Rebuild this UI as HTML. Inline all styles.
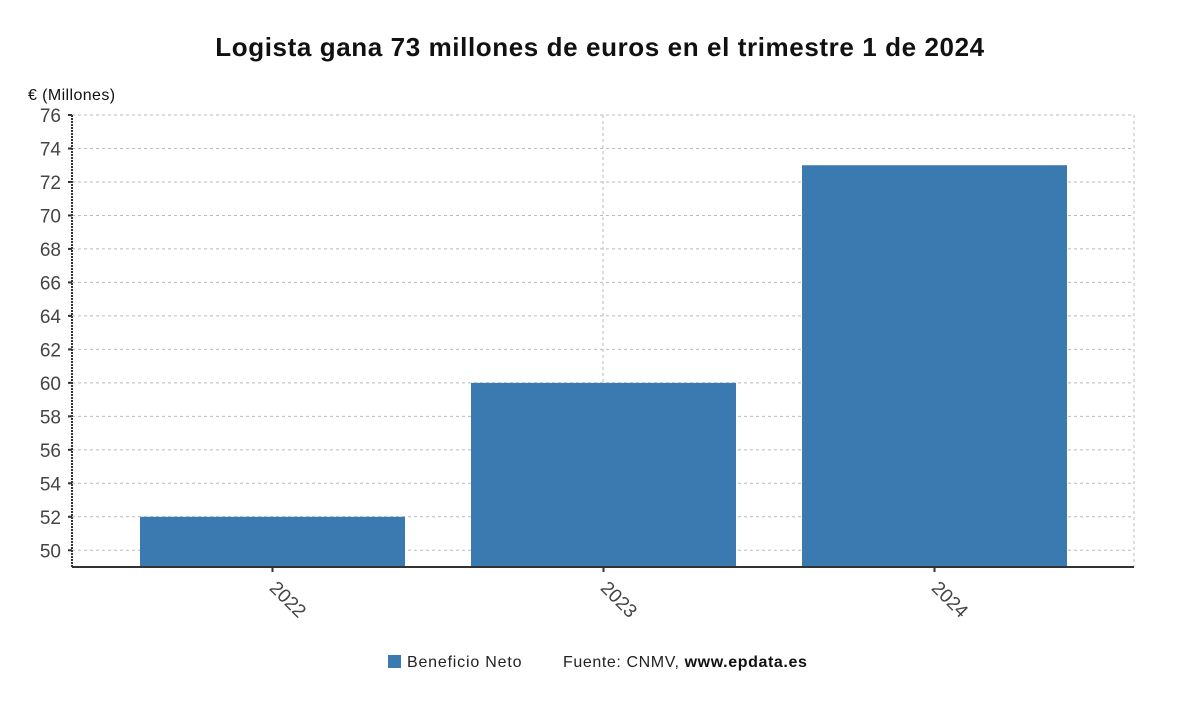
<!DOCTYPE html>
<html><head><meta charset="utf-8"><style>
body{margin:0;background:#fff;}
svg{display:block;font-family:"Liberation Sans",sans-serif;}
</style></head><body>
<svg id="c" width="1200" height="705">
<text x="600" y="56" text-anchor="middle" font-size="26" font-weight="bold" fill="#111" letter-spacing="0.6">Logista gana 73 millones de euros en el trimestre 1 de 2024</text>
<text x="28" y="100" font-size="16" fill="#111" letter-spacing="0.4">€ (Millones)</text>
<g id="grid"></g><g id="bars"></g><g id="axes"></g>
<g>
<rect x="388" y="655" width="13" height="13" fill="#3a7ab0"></rect>
<text x="407" y="667" font-size="16" fill="#222" letter-spacing="0.8">Beneficio Neto</text>
<text x="563" y="667" font-size="16" fill="#222" letter-spacing="0.6">Fuente: CNMV, <tspan font-weight="bold" fill="#111">www.epdata.es</tspan></text>
</g>
</svg>
<script>
const categories=["2022","2023","2024"];
const values=[52,60,73];
const yTicks=[50,52,54,56,58,60,62,64,66,68,70,72,74,76];
const NS="http://www.w3.org/2000/svg";
const L=72,R=1134,T=115,B=567,yMin=49,yMax=76;
function y(v){return B-(v-yMin)/(yMax-yMin)*(B-T);}
function x(i){return 272.5+331*i;}
function mk(tag,attrs,parent){const e=document.createElementNS(NS,tag);for(const k in attrs)e.setAttribute(k,attrs[k]);document.getElementById(parent).appendChild(e);return e;}
yTicks.forEach(v=>{
 const g=mk('line',{x1:L,x2:R,y1:y(v),y2:y(v),stroke:'#bbb','stroke-dasharray':'3,3'},'grid');
 
 
 const tk=mk('line',{x1:L-4,x2:L,y1:y(v),y2:y(v),stroke:'#333','stroke-width':2},'axes');
 
 
 const t=mk('text',{x:L-11,y:y(v)+7,'text-anchor':'end','font-size':19,fill:'#444'},'axes');
 t.textContent=v;
 
 
});
[603,1134].forEach(px=>{
 const g=mk('line',{x1:px,x2:px,y1:T,y2:B,stroke:'#bbb','stroke-dasharray':'3,3'},'grid');
 
 
});
categories.forEach((c,i)=>{
 const b=mk('rect',{x:x(i)-132.5,width:265,y:y(values[i]),height:B-y(values[i]),fill:'#3a7ab0'},'bars');
 
 
 const tk=mk('line',{x1:x(i),x2:x(i),y1:B,y2:B+5,stroke:'#333','stroke-width':2},'axes');
 
 
 const t=mk('text',{x:0,y:0,'font-size':19,fill:'#444',transform:`translate(${x(i)-4},${B+22}) rotate(45)`},'axes');
 t.textContent=c;
 
 
});
const ya=mk('line',{x1:L,x2:L,y1:T,y2:B,stroke:'#333','stroke-width':2,'stroke-dasharray':'2,1'},'axes');


const xa=mk('line',{x1:L,x2:R,y1:B,y2:B,stroke:'#333','stroke-width':2},'axes');


</script>
</body></html>
